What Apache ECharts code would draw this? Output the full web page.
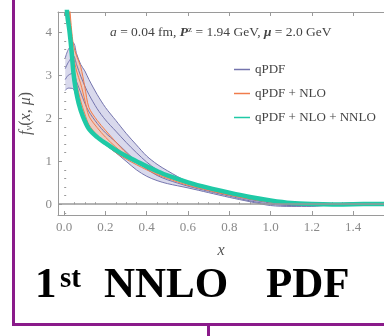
<!DOCTYPE html>
<html>
<head>
<meta charset="utf-8">
<script src="https://cdn.jsdelivr.net/npm/echarts@6/dist/echarts.min.js"></script>
<style>
  html, body { margin: 0; padding: 0; background: #fff; }
  #container { width: 384px; height: 336px; }
</style>
</head>
<body>
<div id="container"></div>
<script>
// qPDF band (purple, hatched)
var qX     = [0.005, 0.02, 0.045, 0.06, 0.08, 0.1, 0.12, 0.16, 0.2, 0.25, 0.3, 0.35, 0.4, 0.45, 0.5, 0.6, 0.7, 0.8, 0.9, 1.0, 1.1, 1.2, 1.3, 1.4, 1.5, 1.55];
var qUpper = [3.4, 3.6, 3.75, 3.5, 3.25, 3.1, 2.9, 2.55, 2.25, 1.95, 1.65, 1.38, 1.12, 0.93, 0.78, 0.52, 0.37, 0.25, 0.14, 0.06, 0.01, -0.01, 0.01, 0.03, 0.04, 0.04];
var qLower = [2.65, 2.7, 2.68, 2.45, 2.22, 1.95, 1.8, 1.55, 1.38, 1.2, 1.0, 0.8, 0.65, 0.55, 0.48, 0.38, 0.27, 0.16, 0.06, -0.03, -0.05, -0.05, -0.01, 0.01, 0.01, 0.01];
var qMidA  = [3.15, 3.3, 3.45, 3.25, 2.98, 2.75, 2.55, 2.22, 1.96, 1.7, 1.44, 1.2, 0.98, 0.8, 0.67, 0.47, 0.34, 0.22, 0.11, 0.03, -0.01, -0.02, 0.0, 0.02, 0.03, 0.03];
var qMidB  = [2.9, 3.0, 3.05, 2.85, 2.6, 2.35, 2.15, 1.88, 1.66, 1.45, 1.22, 1.0, 0.82, 0.67, 0.57, 0.42, 0.3, 0.19, 0.08, 0.0, -0.03, -0.03, -0.005, 0.015, 0.02, 0.02];

// qPDF + NLO band (orange)
var nloX     = [0.02, 0.035, 0.045, 0.06, 0.08, 0.1, 0.12, 0.16, 0.2, 0.25, 0.3, 0.35, 0.4, 0.45, 0.5, 0.6, 0.7, 0.8, 0.9, 1.0, 1.1, 1.2, 1.3, 1.4, 1.5, 1.55];
var nloUpper = [5.0, 4.1, 3.7, 3.45, 3.2, 2.73, 2.25, 1.95, 1.72, 1.45, 1.2, 1.0, 0.88, 0.76, 0.66, 0.5, 0.37, 0.26, 0.16, 0.08, 0.03, 0.01, 0.01, 0.025, 0.03, 0.03];
var nloMid   = [4.8, 3.9, 3.45, 3.1, 2.8, 2.42, 2.05, 1.78, 1.56, 1.33, 1.13, 0.96, 0.84, 0.72, 0.63, 0.47, 0.345, 0.235, 0.14, 0.065, 0.015, 0.0, 0.005, 0.02, 0.025, 0.025];
var nloLower = [4.5, 3.7, 3.2, 2.8, 2.4, 2.1, 1.85, 1.6, 1.4, 1.2, 1.05, 0.92, 0.8, 0.69, 0.6, 0.44, 0.32, 0.21, 0.12, 0.05, 0.0, -0.01, 0.0, 0.015, 0.02, 0.02];

// qPDF + NLO + NNLO (teal)
var nnloX = [0.005, 0.015, 0.025, 0.035, 0.045, 0.055, 0.07, 0.09, 0.12, 0.16, 0.2, 0.25, 0.3, 0.35, 0.4, 0.45, 0.5, 0.6, 0.7, 0.8, 0.9, 1.0, 1.1, 1.2, 1.3, 1.4, 1.5, 1.55];
var nnloY = [5.2, 4.4, 4.05, 3.6, 3.05, 2.7, 2.35, 2.05, 1.75, 1.56, 1.42, 1.26, 1.12, 1.0, 0.88, 0.77, 0.67, 0.51, 0.38, 0.27, 0.17, 0.09, 0.03, 0.005, -0.005, 0.0, 0.005, 0.005];

var xMajor = [0, 0.2, 0.4, 0.6, 0.8, 1.0, 1.2, 1.4];
var xMinor = [0.05, 0.1, 0.15, 0.25, 0.3, 0.35, 0.45, 0.5, 0.55, 0.65, 0.7, 0.75, 0.85, 0.9, 0.95, 1.05, 1.1, 1.15, 1.25, 1.3, 1.35, 1.45, 1.5];
var yMajor = [0, 1, 2, 3, 4];
var yMinor = [-0.2, 0.2, 0.4, 0.6, 0.8, 1.2, 1.4, 1.6, 1.8, 2.2, 2.4, 2.6, 2.8, 3.2, 3.4, 3.6, 3.8, 4.2, 4.4];

var PURPLE = '#7474ad', PURPLE_FILL = 'rgba(196,196,226,0.65)';
var ORANGE = '#f07c4c', ORANGE_FILL = 'rgba(250,190,160,0.55)';
var TEAL = '#1fc9a6';
var SERIF = '"Liberation Serif", "Times New Roman", serif';

function zip(xs, ys) {
    var out = [];
    for (var i = 0; i < xs.length; i++) out.push([xs[i], ys[i]]);
    return out;
}

function bandSeries(name, xs, lo, hi, fill) {
    var data = [];
    for (var i = 0; i < xs.length; i++) data.push([xs[i], lo[i], hi[i]]);
    return {
        name: name,
        type: 'custom',
        silent: true,
        data: data,
        encode: { x: 0, y: [1, 2] },
        renderItem: function (params, api) {
            if (params.dataIndex !== 0) return;
            var pts = [];
            for (var i = 0; i < xs.length; i++) pts.push(api.coord([xs[i], hi[i]]));
            for (var j = xs.length - 1; j >= 0; j--) pts.push(api.coord([xs[j], lo[j]]));
            var cs = params.coordSys;
            return {
                type: 'polygon',
                shape: { points: pts },
                style: { fill: fill },
                clipPath: { type: 'rect', shape: { x: cs.x, y: cs.y, width: cs.width, height: cs.height } }
            };
        }
    };
}

function lineSeries(name, xs, ys, color, width) {
    return {
        name: name,
        type: 'line',
        data: zip(xs, ys),
        showSymbol: false,
        smooth: 0.3,
        lineStyle: { color: color, width: width },
        itemStyle: { color: color },
        silent: true
    };
}

var myChart = echarts.init(document.getElementById('container'));

var option = {
    backgroundColor: '#fff',
    animation: false,
    grid: { left: 58, top: 12, width: 337, height: 203 },
    legend: {
        orient: 'vertical',
        left: 229,
        top: 58,
        itemWidth: 16,
        itemHeight: 1.5,
        itemGap: 11,
        textStyle: { fontFamily: SERIF, fontSize: 13, color: '#444' },
        data: [
            { name: 'qPDF', icon: 'rect', itemStyle: { color: PURPLE } },
            { name: 'qPDF + NLO', icon: 'rect', itemStyle: { color: ORANGE } },
            { name: 'qPDF + NLO + NNLO', icon: 'rect', itemStyle: { color: TEAL } }
        ]
    },
    xAxis: [
        {
            type: 'value', min: -0.03, max: 1.55, position: 'bottom',
            name: 'x', nameLocation: 'middle', nameGap: 28,
            nameTextStyle: { fontFamily: SERIF, fontStyle: 'italic', fontSize: 16, color: '#555' },
            axisLine: { show: true, onZero: false, lineStyle: { color: '#9a9a9a', width: 1 } },
            axisTick: { inside: true, length: 4, customValues: xMajor, lineStyle: { color: '#9a9a9a' } },
            axisLabel: {
                customValues: xMajor, margin: 6, color: '#8a8a8a', fontFamily: SERIF, fontSize: 13,
                formatter: function (v) { return v.toFixed(1); }
            },
            splitLine: { show: false }
        },
        {
            type: 'value', min: -0.03, max: 1.55, position: 'bottom',
            axisLine: { show: false },
            axisTick: { inside: true, length: 2, customValues: xMinor, lineStyle: { color: '#9a9a9a' } },
            axisLabel: { show: false },
            splitLine: { show: false }
        },
        {
            type: 'value', min: -0.03, max: 1.55, position: 'top',
            axisLine: { show: true, onZero: false, lineStyle: { color: '#9a9a9a', width: 1 } },
            axisTick: { inside: true, length: 4, customValues: xMajor, lineStyle: { color: '#9a9a9a' } },
            axisLabel: { show: false },
            splitLine: { show: false }
        }
    ],
    yAxis: [
        {
            type: 'value', min: -0.25, max: 4.47, position: 'left',
            name: '{i|f}{sub|v}{n|(}{i|x}{n|, }{i|μ}{n|)}',
            nameLocation: 'middle', nameGap: 18, nameRotate: 90,
            nameTextStyle: {
                color: '#555',
                rich: {
                    i: { fontFamily: SERIF, fontStyle: 'italic', fontSize: 16, color: '#555' },
                    n: { fontFamily: SERIF, fontSize: 16, color: '#555' },
                    sub: { fontFamily: SERIF, fontStyle: 'italic', fontSize: 11, color: '#555', verticalAlign: 'bottom', padding: [6, 0, 0, 0] }
                }
            },
            axisLine: { show: true, onZero: false, lineStyle: { color: '#9a9a9a', width: 1 } },
            axisTick: { inside: true, length: 4, customValues: yMajor, lineStyle: { color: '#9a9a9a' } },
            axisLabel: { customValues: yMajor, margin: 6, color: '#8a8a8a', fontFamily: SERIF, fontSize: 13 },
            splitLine: { show: false }
        },
        {
            type: 'value', min: -0.25, max: 4.47, position: 'left',
            axisLine: { show: false },
            axisTick: { inside: true, length: 2, customValues: yMinor, lineStyle: { color: '#9a9a9a' } },
            axisLabel: { show: false },
            splitLine: { show: false }
        }
    ],
    series: [
        {
            name: 'zero', type: 'line', data: [], silent: true,
            markLine: {
                silent: true, symbol: 'none', label: { show: false },
                lineStyle: { color: '#999', width: 1.5, type: 'solid' },
                data: [{ yAxis: 0 }]
            }
        },
        bandSeries('qPDF band', qX, qLower, qUpper, PURPLE_FILL),
        lineSeries('qPDF', qX, qUpper, PURPLE, 1),
        lineSeries('qPDF', qX, qMidA, PURPLE, 1),
        lineSeries('qPDF', qX, qMidB, PURPLE, 1),
        lineSeries('qPDF', qX, qLower, PURPLE, 1),
        bandSeries('NLO band', nloX, nloLower, nloUpper, ORANGE_FILL),
        lineSeries('qPDF + NLO', nloX, nloUpper, ORANGE, 1),
        lineSeries('qPDF + NLO', nloX, nloMid, ORANGE, 1),
        lineSeries('qPDF + NLO', nloX, nloLower, ORANGE, 1),
        lineSeries('qPDF + NLO + NNLO', nnloX, nnloY, TEAL, 4.5)
    ],
    graphic: [
        {
            type: 'text', left: 110, top: 25, silent: true,
            style: {
                text: '{i|a} = 0.04 fm, {b|P}{sup|z} = 1.94 GeV, {b|μ} = 2.0 GeV',
                fill: '#444', font: '13.5px ' + SERIF,
                rich: {
                    i: { fontFamily: SERIF, fontStyle: 'italic', fontSize: 13.5, fill: '#444' },
                    b: { fontFamily: SERIF, fontStyle: 'italic', fontWeight: 'bold', fontSize: 13.5, fill: '#444' },
                    sup: { fontFamily: SERIF, fontSize: 9, fill: '#444', verticalAlign: 'top', padding: [0, 0, 6, 0] }
                }
            }
        },
        // purple frame
        { type: 'line', silent: true, shape: { x1: 13.5, y1: 0, x2: 13.5, y2: 324.5 }, style: { stroke: '#8a1a8a', lineWidth: 3 } },
        { type: 'line', silent: true, shape: { x1: 12, y1: 324.5, x2: 384, y2: 324.5 }, style: { stroke: '#8a1a8a', lineWidth: 3 } },
        { type: 'line', silent: true, shape: { x1: 208.5, y1: 324, x2: 208.5, y2: 336 }, style: { stroke: '#8a1a8a', lineWidth: 3 } },
        // caption
        { type: 'text', x: 35, y: 286, silent: true, style: { text: '1', font: 'bold 43px ' + SERIF, fill: '#000', verticalAlign: 'middle' } },
        { type: 'text', x: 60, y: 280, silent: true, style: { text: 'st', font: 'bold 29px ' + SERIF, fill: '#000', verticalAlign: 'middle' } },
        { type: 'text', x: 104, y: 286, silent: true, style: { text: 'NNLO', font: 'bold 43px ' + SERIF, fill: '#000', verticalAlign: 'middle' } },
        { type: 'text', x: 266, y: 286, silent: true, style: { text: 'PDF', font: 'bold 43px ' + SERIF, fill: '#000', verticalAlign: 'middle' } }
    ]
};

myChart.setOption(option);
</script>
</body>
</html>
